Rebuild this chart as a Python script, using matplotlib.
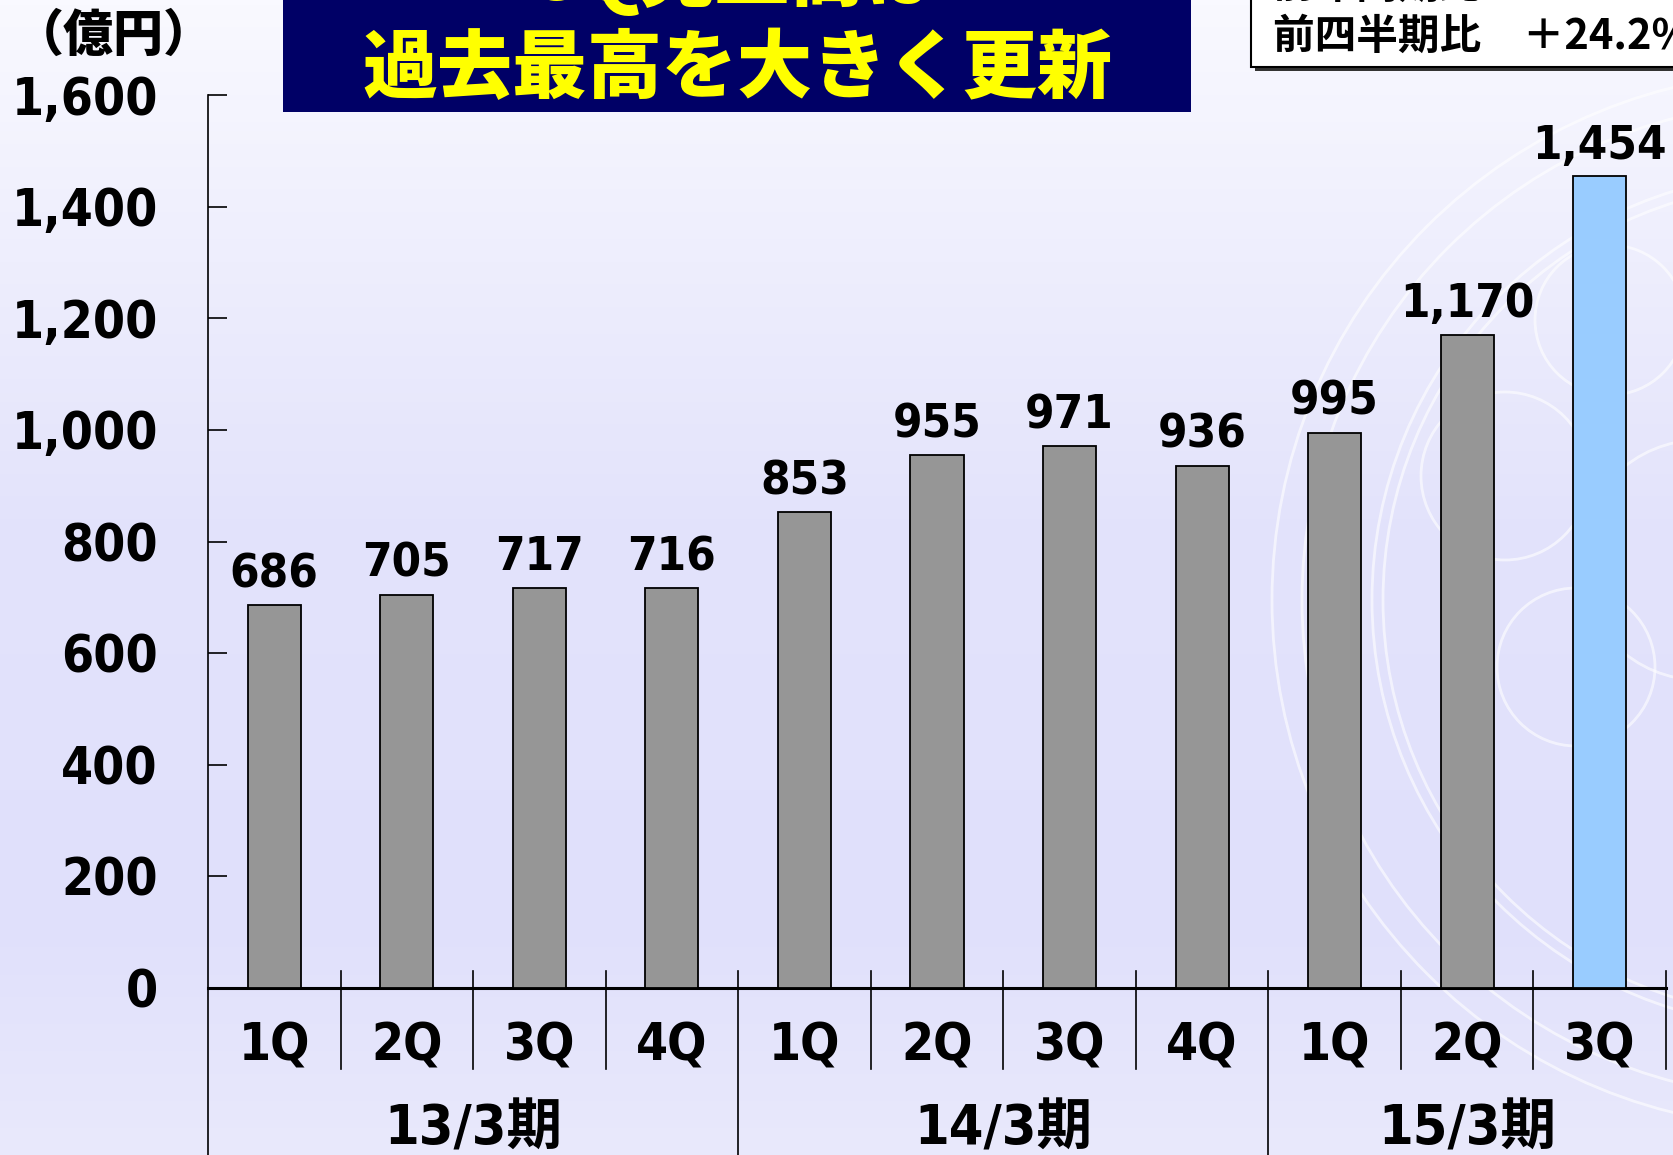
import matplotlib
matplotlib.use("Agg")
import matplotlib.pyplot as plt
import numpy as np
from matplotlib.patches import Rectangle, Circle
from matplotlib.colors import LinearSegmentedColormap
import matplotlib.transforms as mtransforms

# ---- data ----
quarters = ["1Q", "2Q", "3Q", "4Q", "1Q", "2Q", "3Q", "4Q", "1Q", "2Q", "3Q"]
values = [686, 705, 717, 716, 853, 955, 971, 936, 995, 1170, 1454]
years = ["13/3期", "14/3期", "15/3期"]
year_centers = [1.5, 5.5, 9.0]
yticks = [0, 200, 400, 600, 800, 1000, 1200, 1400, 1600]
title_line1 = "3Q売上高は"
title_line2 = "過去最高を大きく更新"
box_line1 = "前年同期比　＋49.7%"
box_line2 = "前四半期比　＋24.2%"
unit_label = "（億円）"

W, H = 1673, 1155
fig = plt.figure(figsize=(W / 100, H / 100), dpi=100)

# ---- background ----
bg = fig.add_axes([0, 0, 1, 1], zorder=0)
bg.set_xlim(0, W)
bg.set_ylim(H, 0)
bg.axis("off")
cmap = LinearSegmentedColormap.from_list(
    "bg", [(0, "#f9f9ff"), (0.45, "#e3e3fb"), (0.8, "#e0e0fb"), (1.0, "#e9e9fc")])
grad = np.linspace(0, 1, 256).reshape(-1, 1)
bg.imshow(grad, cmap=cmap, extent=[0, W, H, 0], aspect="auto")

for (cx, cy, r) in [(1800, 600, 528), (1800, 600, 498), (1800, 600, 428), (1800, 600, 417),
                    (1505, 476, 84), (1576, 667, 79), (1610, 320, 75), (1700, 560, 120)]:
    bg.add_patch(Circle((cx, cy), r, fill=False, edgecolor="white", lw=2, alpha=0.6))

# title box
bg.add_patch(Rectangle((283, -10), 908, 122, facecolor="#000066", edgecolor="none"))
bg.text(737, -24, title_line1, color="#ffff00", fontsize=54, fontweight="heavy",
        family=["Noto Sans CJK JP"], ha="center", va="center")
bg.text(737, 70, title_line2, color="#ffff00", fontsize=54, fontweight="heavy",
        family=["Noto Sans CJK JP"], ha="center", va="center")

# top-right box
bg.add_patch(Rectangle((1255, -10), 430, 81, facecolor="#333333", edgecolor="none"))
bg.add_patch(Rectangle((1251, -10), 430, 77, facecolor="white", edgecolor="black", lw=1.5))
bg.text(1273, -14, box_line1, fontsize=30, fontweight="bold",
        family=["Noto Sans CJK JP"], ha="left", va="center")
bg.text(1273, 37, box_line2, fontsize=30, fontweight="bold",
        family=["Noto Sans CJK JP"], ha="left", va="center")

# unit label
bg.text(114, 36, unit_label, fontsize=36, fontweight="heavy",
        family=["Noto Sans CJK JP"], ha="center", va="center")

# ---- main axes ----
x0, x1 = 208, 1666
y0, y1 = 988, 95
ax = fig.add_axes([x0 / W, (H - y0) / H, (x1 - x0) / W, (y0 - y1) / H], zorder=1)
ax.set_facecolor("none")

colors = ["#969696"] * (len(values) - 1) + ["#99ccff"]
x = np.arange(len(values))
ax.bar(x, values, width=0.4, color=colors, edgecolor="black", linewidth=1.3, zorder=3)
ax.set_xlim(-0.5, len(values) - 0.5)
ax.set_ylim(0, 1600)

numfont = dict(family=["DejaVu Sans", "Noto Sans CJK JP"], fontweight="bold", fontstretch="condensed")

for xi, v in zip(x, values):
    ax.text(xi, v + 32, f"{v:,}", ha="center", va="baseline", fontsize=34, **numfont)

ax.set_yticks(yticks)
ax.set_yticklabels([f"{t:,}" for t in yticks])
for lab in ax.get_yticklabels():
    lab.set_fontsize(37)
    lab.set_fontweight("bold")
    lab.set_fontstretch("condensed")
    lab.set_family("DejaVu Sans")
ax.tick_params(axis="y", direction="in", length=14, width=1.2, pad=36)
ax.set_xticks([])

for s in ["top", "right"]:
    ax.spines[s].set_visible(False)
ax.spines["left"].set_linewidth(1.2)
ax.spines["bottom"].set_linewidth(2.2)

trans = mtransforms.blended_transform_factory(ax.transData, fig.transFigure)
for xi, q in zip(x, quarters):
    ax.text(xi, 1 - 1046 / H, q, transform=trans, ha="center", va="center",
            fontsize=37, clip_on=False, **numfont)
for yc, yl in zip(year_centers, years):
    ax.text(yc, 1 - 1129 / H, yl, transform=trans, ha="center", va="center",
            fontsize=40, clip_on=False, **numfont)

top_sep = 1 - 971 / H
bot_q = 1 - 1069 / H
for b in np.arange(0.5, len(values) - 0.5 + 1e-9, 1.0):
    if b in (3.5, 7.5):
        ax.plot([b, b], [top_sep, 0], transform=trans, color="black", lw=1.2, clip_on=False)
    else:
        ax.plot([b, b], [top_sep, bot_q], transform=trans, color="black", lw=1.2, clip_on=False)
# left line extending to bottom
ax.plot([-0.5, -0.5], [(H - y0) / H, 0], transform=trans, color="black", lw=1.2, clip_on=False)

fig.savefig("out.png", dpi=100)
